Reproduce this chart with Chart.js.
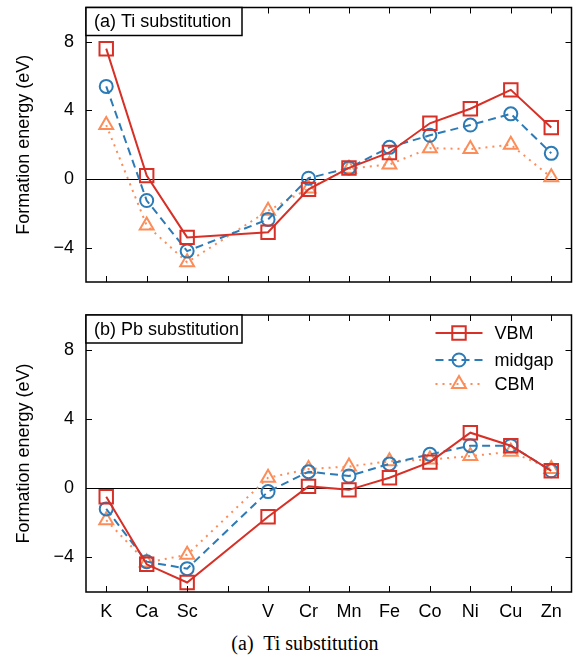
<!DOCTYPE html>
<html>
<head>
<meta charset="utf-8">
<script src="https://cdn.jsdelivr.net/npm/chart.js@4.4.1/dist/chart.umd.min.js"></script>
<style>
  body { margin: 0; background: #fff; }
  #wrap { position: relative; width: 576px; height: 669px; overflow: hidden; }
  canvas { position: absolute; left: 0; }
  #caption { position: absolute; top: 632px; left: 0; width: 610px; text-align: center;
             font: 20px "Liberation Serif", "Times New Roman", serif; color: #000; white-space: pre; }
</style>
</head>
<body>
<div id="wrap">
  <canvas id="panelA" width="583" height="304" style="top:-4px"></canvas>
  <canvas id="panelB" width="583" height="330" style="top:300px"></canvas>
  <div id="caption">(a)  Ti substitution</div>
</div>
<script>
// substituted elements; Ti is the host site, so it has a tick but no label / data
const elements = ['K', 'Ca', 'Sc', 'Ti', 'V', 'Cr', 'Mn', 'Fe', 'Co', 'Ni', 'Cu', 'Zn'];
const hostElement = 'Ti';
const yTicks = [-4, 0, 4, 8];

// (a) Ti substitution, formation energy (eV)
const tiVBM    = [7.6, 0.2, -3.4, null, -3.1, -0.6, 0.65, 1.55, 3.25, 4.1, 5.2, 3.0];
const tiMidgap = [5.4, -1.25, -4.2, null, -2.35, 0.05, 0.65, 1.85, 2.55, 3.15, 3.8, 1.5];
const tiCBM    = [3.15, -2.7, -4.85, null, -1.85, -0.55, 0.6, 0.85, 1.8, 1.75, 2.0, 0.1];

// (b) Pb substitution
const pbVBM    = [-0.5, -4.4, -5.45, null, -1.65, 0.1, -0.1, 0.6, 1.5, 3.2, 2.45, 1.0];
const pbMidgap = [-1.2, -4.25, -4.65, null, -0.2, 0.95, 0.7, 1.4, 1.95, 2.45, 2.45, 1.0];
const pbCBM    = [-1.85, -4.3, -3.85, null, 0.6, 1.1, 1.25, 1.55, 1.65, 1.85, 2.1, 1.1];

const seriesNames = ['VBM', 'midgap', 'CBM'];

const FONT = '"Liberation Sans", Arial, Helvetica, sans-serif';
const styles = [
    { color: '#d73027', dash: [], point: 'rect', radius: 9.5 },
    { color: '#2c7bb6', dash: [8, 5], point: 'circle', radius: 6.5 },
    { color: '#fc8d59', dash: [2, 5], point: 'triangle', radius: 8 }
];

// frame, zero line and inward ticks on all four sides
const framePlugin = {
    id: 'frame',
    beforeDatasetsDraw(chart) {
        const { ctx, chartArea: a, scales } = chart;
        const y0 = Math.round(scales.y.getPixelForValue(0)) + 0.5;
        ctx.save();
        ctx.strokeStyle = '#000'; ctx.lineWidth = 1;
        ctx.beginPath(); ctx.moveTo(a.left, y0); ctx.lineTo(a.right, y0); ctx.stroke();
        ctx.restore();
    },
    afterDraw(chart) {
        const { ctx, chartArea: a, scales } = chart;
        const tl = 6;
        ctx.save();
        ctx.strokeStyle = '#000'; ctx.lineWidth = 1;
        ctx.beginPath();
        elements.forEach((_, i) => {
            const x = Math.round(scales.x.getPixelForValue(i)) + 0.5;
            ctx.moveTo(x, a.bottom); ctx.lineTo(x, a.bottom - tl);
            ctx.moveTo(x, a.top); ctx.lineTo(x, a.top + tl);
        });
        yTicks.forEach(v => {
            const y = Math.round(scales.y.getPixelForValue(v)) + 0.5;
            ctx.moveTo(a.left, y); ctx.lineTo(a.left + tl, y);
            ctx.moveTo(a.right, y); ctx.lineTo(a.right - tl, y);
        });
        ctx.stroke();
        ctx.lineWidth = 1.5;
        ctx.strokeRect(a.left, a.top, a.right - a.left, a.bottom - a.top);

        // panel label box
        const txt = chart.options.plugins.frame.label;
        ctx.fillStyle = '#fff';
        ctx.fillRect(a.left, a.top, 156, 28);
        ctx.strokeRect(a.left, a.top, 156, 28);
        ctx.fillStyle = '#000';
        ctx.font = '18px ' + FONT;
        ctx.textBaseline = 'middle';
        ctx.fillText(txt, a.left + 8, a.top + 15);

        // legend inside the chart area
        if (chart.options.plugins.frame.legend) {
            const rows = [18, 45, 69];
            chart.data.datasets.forEach((ds, i) => {
                const y = a.top + rows[i];
                const x1 = a.right - 136, x2 = a.right - 89, xm = (x1 + x2) / 2;
                ctx.strokeStyle = ds.borderColor;
                ctx.lineWidth = 2;
                ctx.setLineDash(ds.borderDash);
                ctx.beginPath(); ctx.moveTo(x1, y); ctx.lineTo(x2, y); ctx.stroke();
                ctx.setLineDash([]);
                ctx.fillStyle = 'rgba(0,0,0,0)';
                if (Chart.helpers && Chart.helpers.drawPoint) {
                    Chart.helpers.drawPoint(ctx, {
                        pointStyle: ds.pointStyle, radius: ds.pointRadius, borderWidth: 2, rotation: 0
                    }, xm, y);
                }
                ctx.fillStyle = '#000';
                ctx.font = '18px ' + FONT;
                ctx.fillText(ds.label, a.right - 77, y + 1);
            });
        }
        ctx.restore();
    }
};

function makePanel(id, values, label, showX, xHeight, padTop, legend) {
    const datasets = values.map((vals, i) => ({
        label: seriesNames[i],
        data: vals,
        borderColor: styles[i].color,
        backgroundColor: 'rgba(0,0,0,0)',
        borderWidth: 2,
        borderDash: styles[i].dash,
        pointStyle: styles[i].point,
        pointRadius: styles[i].radius,
        pointBorderWidth: 2,
        pointBackgroundColor: 'rgba(0,0,0,0)',
        pointBorderColor: styles[i].color,
        spanGaps: true,
        tension: 0
    }));
    return new Chart(document.getElementById(id), {
        type: 'line',
        data: { labels: elements, datasets },
        plugins: [framePlugin],
        options: {
            responsive: false,
            animation: false,
            layout: { padding: { left: 0, right: 10, top: padTop, bottom: 0 } },
            plugins: {
                legend: { display: false },
                tooltip: { enabled: false },
                frame: { label, legend }
            },
            scales: {
                x: {
                    type: 'category',
                    offset: true,
                    grid: { display: false, drawTicks: false },
                    border: { display: false },
                    ticks: {
                        display: showX, autoSkip: false, maxRotation: 0, color: '#000', padding: 9,
                        font: { family: FONT, size: 18 },
                        callback: (v, i) => elements[i] === hostElement ? '' : elements[i]
                    },
                    afterFit: s => { s.height = xHeight; s.paddingLeft = 0; s.paddingRight = 0; }
                },
                y: {
                    min: -6, max: 10,
                    afterBuildTicks: s => { s.ticks = yTicks.map(v => ({ value: v })); },
                    grid: { display: false, drawTicks: false },
                    border: { display: false },
                    ticks: {
                        color: '#000', padding: 12, font: { family: FONT, size: 18 },
                        callback: v => v < 0 ? '\u2212' + Math.abs(v) : String(v)
                    },
                    title: {
                        display: true, text: 'Formation energy (eV)', color: '#000',
                        font: { family: FONT, size: 18 }, padding: { top: 13, bottom: 0 }
                    },
                    afterFit: s => { s.width = 86; s.paddingTop = 0; s.paddingBottom = 0; }
                }
            }
        }
    });
}

makePanel('panelA', [tiVBM, tiMidgap, tiCBM], '(a) Ti substitution', false, 18, 10, false);
makePanel('panelB', [pbVBM, pbMidgap, pbCBM], '(b) Pb substitution', true, 38, 15, true);
</script>
</body>
</html>
